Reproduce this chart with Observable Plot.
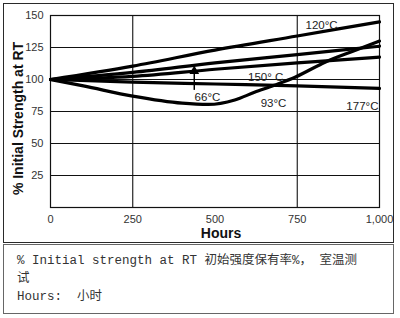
<!DOCTYPE html>
<html>
<head>
<meta charset="utf-8">
<script src="https://cdn.jsdelivr.net/npm/d3@7"></script>
<script src="https://cdn.jsdelivr.net/npm/@observablehq/plot@0.6"></script>
<style>
  html, body { margin: 0; padding: 0; background: #fff; }
  #wrap { position: relative; width: 400px; height: 318px; overflow: hidden; }
  #chart { position: absolute; left: 0; top: 0; }
  #panel { position: absolute; left: 3px; top: 3px; width: 391px; height: 240px; box-sizing: border-box; border: 1.5px solid #2a2a2a; pointer-events: none; }
  #note { position: absolute; left: 3px; top: 243.5px; width: 391px; height: 70.5px; box-sizing: border-box; border: 1px solid #666; padding: 7px 0 0 13px;
          font-family: "Liberation Mono", "Noto Sans CJK SC", monospace; font-size: 12.5px; line-height: 18px; color: #333; white-space: pre; }
</style>
</head>
<body>
<div id="wrap">
  <div id="chart"></div>
  <div id="panel"></div>
  <div id="note"></div>
</div>
<script>
// ---- data ----
const xTicks = [0, 250, 500, 750, 1000];
const yTicks = [25, 50, 75, 100, 125, 150];
const gridX = [250, 750];
const gridY = [25, 50, 75, 100, 125];

const hoursStraight = [0, 250, 500, 750, 1000];
const s120 = [100, 110.5, 123, 134, 145];
const s150 = [100, 105.5, 113, 119.5, 126];
const s66  = [100, 102.5, 108, 113, 117.5];
const s177 = [100, 98, 96.5, 95, 93];

const hours93 = [0, 100, 250, 400, 480, 560, 620, 680, 745, 836, 927, 1000];
const s93     = [100, 95, 87, 81.5, 80.5, 84, 90, 95.5, 102, 113.7, 122.8, 130];

const labelText  = ["120°C", "150° C", "66°C", "93°C", "177°C"];
const labelHours = [824, 654, 477, 678, 948];
const labelValue = [142.4, 102, 86, 81.5, 79];

const arrowHours = [437];
const arrowFrom  = [91.5];
const arrowTo    = [104.5];
const arrowHead  = [106.5];

const xLabel = "Hours";
const yLabel = "% Initial Strength at RT";
const noteLines = ["% Initial strength at RT 初始强度保有率%， 室温测", "试", "Hours:  小时"];

// ---- build table ----
const rows = [];
const addSeries = (name, xs, ys) => xs.forEach((h, i) => rows.push({series: name, hours: h, value: ys[i]}));
addSeries("120°C", hoursStraight, s120);
addSeries("150°C", hoursStraight, s150);
addSeries("66°C", hoursStraight, s66);
addSeries("177°C", hoursStraight, s177);
addSeries("93°C", hours93, s93);

const labels = labelText.map((t, i) => ({text: t, hours: labelHours[i], value: labelValue[i]}));
const arrows = arrowHours.map((h, i) => ({hours: h, from: arrowFrom[i], to: arrowTo[i], head: arrowHead[i]}));

const chart = Plot.plot({
  width: 400,
  height: 243,
  marginLeft: 50,
  marginRight: 21,
  marginTop: 15,
  marginBottom: 36,
  x: {domain: [0, 1000]},
  y: {domain: [0, 150]},
  style: {fontFamily: "'Liberation Sans', Arial, sans-serif", fontSize: "11px", color: "#222", background: "transparent", overflow: "visible"},
  marks: [
    Plot.ruleY(gridY, {stroke: "#111", strokeWidth: 1.1}),
    Plot.ruleX(gridX, {stroke: "#111", strokeWidth: 1.1}),
    Plot.frame({stroke: "#111", strokeWidth: 1.2}),
    Plot.line(rows, {x: "hours", y: "value", z: "series", stroke: "#000", strokeWidth: 3.2, curve: "monotone-x", strokeLinejoin: "round"}),
    Plot.ruleX(arrows, {x: "hours", y1: "from", y2: "to", stroke: "#000", strokeWidth: 1.5}),
    Plot.dot(arrows, {x: "hours", y: "head", symbol: "triangle", r: 3.6, fill: "#000", stroke: "none"}),
    Plot.text(labels, {x: "hours", y: "value", text: "text", fontSize: 11.5, fill: "#222"}),
    Plot.axisX({ticks: xTicks, tickSize: 0, tickPadding: 8, tickFormat: d3.format(","), label: null, fill: "#333"}),
    Plot.axisY({ticks: yTicks, tickSize: 0, tickPadding: 7, label: null, fill: "#333"}),
    Plot.text([xLabel], {text: d => d, frameAnchor: "bottom", dy: 30, dx: 6, fontWeight: "bold", fontSize: 14, fill: "#111", textAnchor: "middle"}),
    Plot.text([yLabel], {text: d => d, frameAnchor: "left", rotate: -90, dx: -32, dy: 7, fontWeight: "bold", fontSize: 14, fill: "#111", textAnchor: "middle"})
  ]
});
document.getElementById("chart").appendChild(chart);

const note = document.getElementById("note");
noteLines.forEach(t => { const d = document.createElement("div"); d.textContent = t; note.appendChild(d); });
</script>
</body>
</html>
